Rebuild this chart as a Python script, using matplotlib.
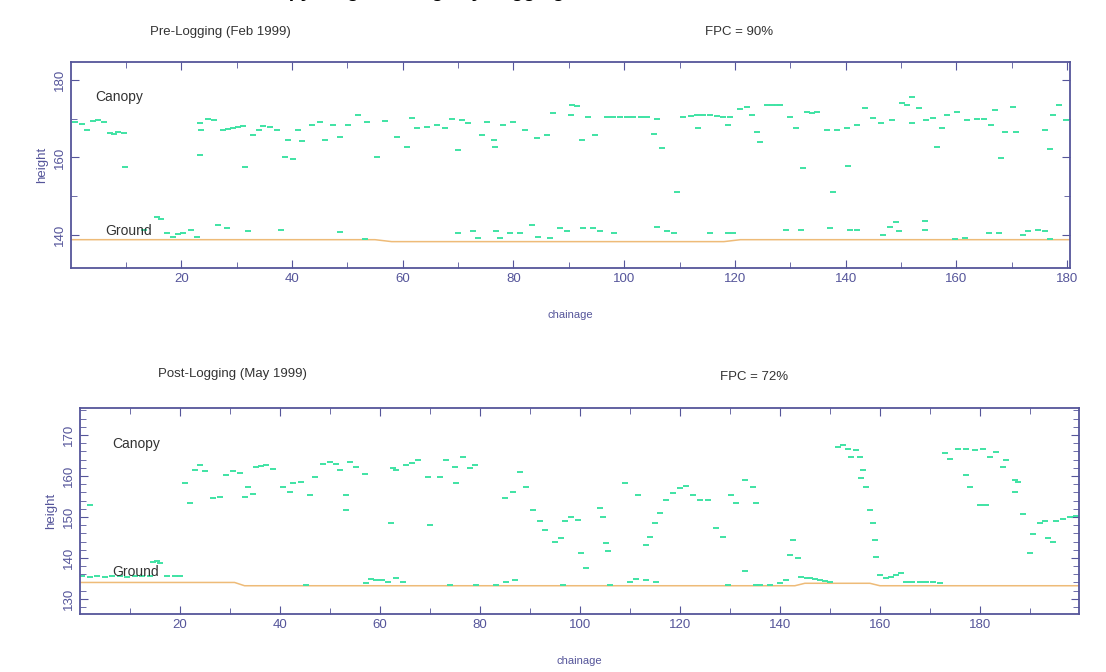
import matplotlib.pyplot as plt
from matplotlib.ticker import MultipleLocator

plt.rcParams['font.family'] = ['Liberation Sans', 'DejaVu Sans']

# ---- pre-logging (Feb 1999) ----
pre_canopy_x = [0.8, 2, 3, 4.1, 5, 6, 7.2, 7.8, 8.6, 9.6, 9.9,
                23.4, 23.6, 23.4, 24.9, 25.9, 27.6, 28.5, 29.4, 30.3, 31.2, 31.5, 33, 34, 34.8,
                36, 37.3, 38.8, 39.3, 40.2, 41.1, 41.8, 43.6, 45, 46, 47.5, 48.7, 50.2,
                52, 53.5, 55.3, 56.8, 58.9, 60.8, 61.7, 62.6, 64.4, 66.2, 67.6, 68.9,
                70, 70.7, 71.8, 74.3, 75.2, 76.4, 76.7, 78.1, 79.9, 82, 84.2, 86, 87.1,
                90.3, 90.5, 91.4, 92.4, 93.5, 94.7, 96.9, 98, 99.3, 100.5, 101.6, 103, 104.1,
                105.3, 105.9, 106.8, 109.5, 110.6, 112, 113.1, 113.4, 114.3, 115.5, 116.7,
                117.9, 118.8, 119.1, 120.9, 122.1, 123, 123.9, 124.5, 125.8, 126.7, 127.6,
                128.1, 129.9, 131, 132.2, 133, 134, 134.8, 136.6, 137.7, 138.4, 140.2, 140.5,
                142, 143.4, 144.9, 146.3, 148.4, 150.1, 151, 151.9, 151.9, 153.3, 154.5,
                155.7, 156.5, 157.4, 158.3, 160.1, 161.9, 163.7, 164.9, 166.3, 166.9,
                168.1, 168.7, 170.2, 170.8, 175.9, 176.8, 177.4, 178.6, 179.8]
pre_canopy_y = [169.2, 168.5, 167.1, 169.4, 169.6, 169.2, 166.3, 166, 166.5, 166.3, 157.6,
                168.8, 167, 160.6, 170, 169.6, 167.1, 167.3, 167.6, 167.8, 168.1, 157.6, 165.8, 167, 168.1,
                167.8, 167.1, 160, 164.5, 159.5, 167, 164.2, 168.4, 169.2, 164.6, 168.4, 165.2, 168.4,
                171, 169.2, 160, 169.4, 165.3, 162.7, 170.2, 167.6, 167.8, 168.4, 167.6, 170,
                162, 169.6, 168.9, 165.8, 169.2, 164.5, 162.7, 168.4, 169.2, 167.1, 165, 165.8, 171.4,
                171, 173.5, 173.3, 164.5, 170.5, 165.7, 170.5, 170.4, 170.3, 170.4, 170.5, 170.5, 170.5,
                166, 170, 162.5, 151.1, 170.5, 170.8, 171, 167.6, 171, 171, 170.8,
                170.5, 168.4, 170.5, 172.6, 173, 171, 166.6, 163.9, 173.5, 173.5, 173.5,
                173.5, 170.5, 167.6, 157.3, 171.8, 171.5, 171.8, 167.1, 151.1, 167.1, 167.6, 157.9,
                168.4, 172.7, 170.2, 169, 169.6, 174.1, 173.5, 175.6, 168.9, 172.7, 169.6,
                170.2, 162.7, 167.6, 171, 171.8, 169.6, 169.9, 170, 168.4, 172.3,
                159.9, 166.6, 173, 166.6, 167.1, 162.2, 171, 173.5, 169.6]
pre_ground_x = [13.2, 15.6, 16.3, 17.4, 18.5, 19.4, 20.3, 21.8, 22.8, 26.7, 28.2, 32.1, 38.1,
                48.7, 53.2, 70, 72.7, 73.6, 76.9, 77.5, 79.3, 81.1, 83.3, 84.5, 86.6, 88.4,
                89.6, 92.6, 94.4, 95.6, 98.1, 105.9, 107.7, 108.9, 115.5, 118.8, 119.7,
                129.3, 132, 137.1, 140.8, 142, 146.8, 148, 149, 149.6, 154.4, 154.4,
                159.8, 161.6, 165.8, 167.6, 172.1, 173, 174.8, 176, 176.9]
pre_ground_y = [141.2, 144.7, 144.2, 140.5, 139.6, 140.2, 140.5, 141.2, 139.6, 142.6, 141.8, 141, 141.2,
                140.8, 139, 140.5, 141, 139.2, 141, 139.2, 140.5, 140.6, 142.6, 139.6, 139.2, 141.8,
                141, 141.8, 141.8, 141, 140.5, 142.1, 141, 140.5, 140.5, 140.5, 140.6,
                141.3, 141.3, 141.8, 141.3, 141.3, 140, 142.1, 143.4, 141, 143.6, 141.3,
                139, 139.2, 140.5, 140.5, 140, 141, 141.3, 141, 139]
pre_line_x = [0, 55, 58, 118, 121, 181]
pre_line_y = [138.8, 138.8, 138.3, 138.3, 138.8, 138.8]

# ---- post-logging (May 1999) ----
post_canopy_x = [2, 21, 22, 23, 24, 25, 26.7, 28, 29.3, 30.7, 32, 33, 33.7, 34.7, 35.3, 36.3,
                 37.3, 38.7, 40.7, 42, 42.7, 44.3, 46, 47, 48.7, 50, 51.3, 52, 53.3, 53.3, 54,
                 55.3, 57, 62.3, 62.7, 63.3, 65.3, 66.5, 67.7, 69.7, 70, 72, 73.3, 75, 75.3, 76.7,
                 78, 79, 85, 86.7, 88, 89.3, 90.7, 92, 93, 95, 96.3, 97, 98.3, 99.7, 100.3,
                 101.3, 104, 104.7, 105.3, 105.7, 109, 111.7, 113.3, 114, 115, 116, 117.3,
                 118.7, 120, 121.3, 122.7, 124, 125.7, 127.3, 128.7, 130.3, 131.3, 133,
                 134.7, 135.3, 142, 142.7, 143.7, 151.7, 152.7, 153.7, 154.3, 155.3, 156,
                 156.7, 156.3, 157.3, 158, 158.7, 159, 159.3, 173, 174, 175.7, 177.3, 177.3,
                 178, 179, 180, 180.7, 181.3, 182, 183.3, 184.7, 185.3, 187, 187.7, 187,
                 188.7, 190, 190.7, 192, 193, 193.7, 194.7, 195.3, 196.7, 198, 199.3]
post_canopy_y = [152.9, 158.3, 153.4, 161.5, 162.7, 161.3, 154.6, 154.9, 160.2, 161.1, 160.7, 154.9,
                 157.3, 155.7, 162.2, 162.4, 162.6, 161.8, 157.3, 156.1, 158.2, 158.5, 155.3, 159.7,
                 163, 163.4, 163, 161.4, 155.3, 151.6, 163.4, 162.2, 160.6, 148.5, 162, 161.4, 162.6,
                 163.2, 163.9, 159.8, 148, 159.8, 163.9, 162.3, 158.2, 164.7, 161.9, 162.7, 154.6,
                 156.2, 161, 157.3, 151.7, 148.9, 146.9, 144, 144.8, 148.9, 150.1, 149.3, 141.2,
                 137.5, 152.1, 150.1, 143.6, 141.6, 158.2, 155.4, 143.2, 145.2, 148.5, 150.9, 154.2,
                 155.8, 157.1, 157.5, 155.4, 154.2, 154.2, 147.3, 145.2, 155.4, 153.4, 159,
                 157.4, 153.4, 140.8, 144.4, 140, 167.1, 167.5, 166.7, 164.7, 166.3, 164.7,
                 161.4, 159.4, 157.3, 151.6, 148.5, 144.4, 140.3, 165.5, 164.2, 166.7, 166.7, 160.2,
                 157.4, 166.3, 152.9, 166.7, 152.9, 164.7, 165.9, 162.2, 163.9, 159, 158.6, 156.2,
                 150.6, 141.3, 145.8, 148.6, 149.1, 144.8, 143.9, 149.1, 149.5, 149.9, 150.3]
post_ground_x = [0.5, 2, 3.5, 5, 6.5, 8, 9.5, 11, 12.5, 14, 14.7, 15.5, 16, 17.5, 19, 20,
                 45.3, 57.3, 58.3, 59.3, 60.5, 61.7, 63.3, 64.7, 74, 79.3, 83.3, 85.3, 87,
                 96.7, 106, 110, 111.3, 113.3, 115.3, 129.7, 133, 135.3, 136, 138, 140, 141.3,
                 144.3, 145.5, 146, 147, 148, 149, 150, 160, 161.3, 162.3, 163.3, 164.3, 165.3,
                 166.5, 168, 169.3, 170.7, 172]
post_ground_y = [135.5, 135.4, 135.5, 135.4, 135.5, 135.5, 135.4, 135.5, 135.6, 135.5, 139, 139.2, 138.8,
                 135.5, 135.6, 135.5, 133.5, 133.9, 134.8, 134.6, 134.5, 134.2, 135, 134.2, 133.4, 133.4,
                 133.4, 134.2, 134.6, 133.4, 133.4, 134.2, 134.8, 134.6, 134, 133.4, 136.7, 133.4,
                 133.4, 133.5, 133.8, 134.6, 135.4, 135.1, 135, 134.8, 134.6, 134.4, 134.2, 135.8, 135,
                 135.3, 135.8, 136.2, 134, 134, 134, 134, 134, 133.9]
post_line_x = [0, 31, 33, 143, 145, 158, 160, 200]
post_line_y = [134.0, 134.0, 133.2, 133.2, 133.8, 133.8, 133.2, 133.2]

green = '#3fe3a4'
tan = '#eebb78'
blue = '#55559a'

fig = plt.figure(figsize=(11.06, 6.72), dpi=100)


def style(ax, ymaj, ymin):
    for s in ax.spines.values():
        s.set_color(blue)
        s.set_linewidth(1.3)
    ax.xaxis.set_major_locator(MultipleLocator(20))
    ax.xaxis.set_minor_locator(MultipleLocator(10))
    ax.yaxis.set_major_locator(MultipleLocator(ymaj))
    ax.yaxis.set_minor_locator(MultipleLocator(ymin))
    ax.tick_params(which='both', direction='in', top=True, right=True, color=blue,
                   labelcolor=blue, labelsize=9.5)
    ax.tick_params(which='major', length=6)
    ax.tick_params(which='minor', length=4)
    for lab in ax.get_yticklabels():
        lab.set_rotation(90)
        lab.set_va('center')
    ax.set_ylabel('height', color=blue, fontsize=9.5)
    ax.set_xlabel('chainage', color=blue, fontsize=8, labelpad=18)


mk = dict(ls='none', marker='_', ms=4.5, mew=1.4, color=green)

ax1 = fig.add_axes([71 / 1106, 1 - 268 / 672, 999 / 1106, 206 / 672])
ax1.plot(pre_line_x, pre_line_y, color=tan, lw=1.1)
ax1.plot(pre_canopy_x, pre_canopy_y, **mk)
ax1.plot(pre_ground_x, pre_ground_y, **mk)
ax1.set_xlim(0.1, 180.5)
ax1.set_ylim(131.5, 184.6)
style(ax1, 20, 10)
ax1.text(4.5, 175.6, 'Canopy', fontsize=10, color='#333333', va='center')
ax1.text(6.3, 141.0, 'Ground', fontsize=10, color='#333333', va='center')

ax2 = fig.add_axes([80 / 1106, 1 - 614 / 672, 999 / 1106, 206 / 672])
ax2.plot(post_line_x, post_line_y, color=tan, lw=1.1)
ax2.plot(post_canopy_x, post_canopy_y, **mk)
ax2.plot(post_ground_x, post_ground_y, **mk)
ax2.set_xlim(0.1, 199.8)
ax2.set_ylim(126.3, 176.6)
style(ax2, 10, 2)
ax2.text(6.6, 167.8, 'Canopy', fontsize=10, color='#333333', va='center')
ax2.text(6.6, 136.6, 'Ground', fontsize=10, color='#333333', va='center')

# main title: cut off at the top edge, as in the original
fig.text(565 / 1106, 1 + 3 / 672, 'Canopy Height Change by Logging', ha='right',
         va='baseline', fontsize=14, fontweight='bold')
fig.text(150 / 1106, 1 - 32 / 672, 'Pre-Logging (Feb 1999)', fontsize=9.5,
         color='#333333', va='center')
fig.text(705 / 1106, 1 - 32 / 672, 'FPC = 90%', fontsize=9.5, color='#333333', va='center')
fig.text(158 / 1106, 1 - 374 / 672, 'Post-Logging (May 1999)', fontsize=9.5,
         color='#333333', va='center')
fig.text(720 / 1106, 1 - 377 / 672, 'FPC = 72%', fontsize=9.5, color='#333333', va='center')

fig.savefig('out.png', dpi=100)
